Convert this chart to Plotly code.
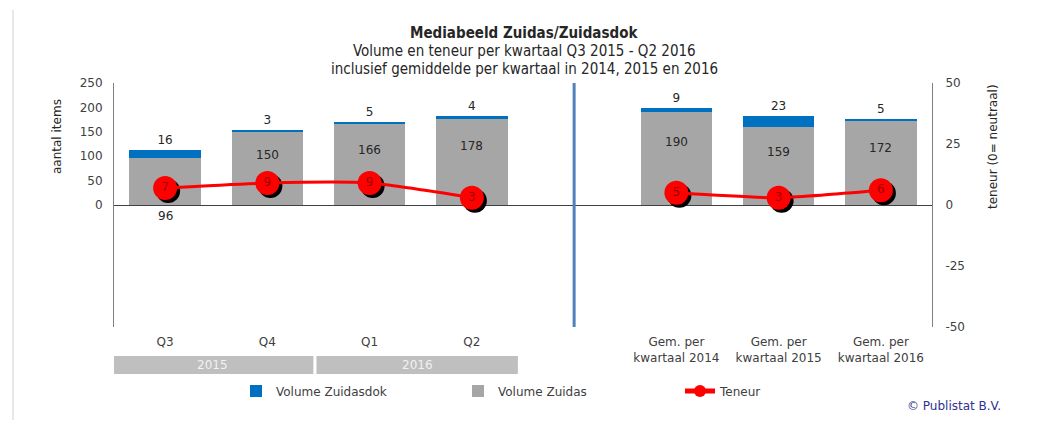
import plotly.graph_objects as go

# ---------------- data ----------------
categories = ["Q3", "Q4", "Q1", "Q2", "", "Gem. per<br>kwartaal 2014", "Gem. per<br>kwartaal 2015", "Gem. per<br>kwartaal 2016"]
volume_zuidas = [96, 150, 166, 178, None, 190, 159, 172]
volume_zuidasdok = [16, 3, 5, 4, None, 9, 23, 5]
teneur = [7, 9, 9, 3, None, 5, 3, 6]
left_ticks = [0, 50, 100, 150, 200, 250]
right_ticks = [-50, -25, 0, 25, 50]
year_groups = ["2015", "2016"]
year_members = [[0, 1], [2, 3]]
separator_slot = 4

# ---------------- layout constants ----------------
OFF = 8                      # page body margin
W, H = 1051 - OFF, 427 - OFF
ML, MT = 114 - OFF, 83 - OFF
PR, PB = 932 - OFF, 327 - OFF  # plot right / bottom in figure px
MR, MB = W - PR, H - PB
PW = PR - ML
PH = PB - MT
FONT = "DejaVu Sans"
TXT = "#404040"

x = list(range(len(categories)))
xr = [-0.5, len(categories) - 0.5]
yl = [-250, 250]
yr = [-50, 50]

def px_x(p):  # page px -> paper
    return (p - OFF - ML) / PW

def px_y(p):
    return (PB - (p - OFF)) / PH

# shadow offsets (3 px right / down)
sx = 3 * (xr[1] - xr[0]) / PW
sy = 3 * (yr[1] - yr[0]) / PH

fig = go.Figure()

fig.add_trace(go.Bar(
    x=x, y=volume_zuidas, name="Volume Zuidas", marker_color="#A6A6A6",
    marker_line_width=0, legendrank=2, hoverinfo="y"))
fig.add_trace(go.Bar(
    x=x, y=volume_zuidasdok, name="Volume Zuidasdok", marker_color="#0070C0",
    marker_line_width=0, legendrank=1,
    text=[str(v) if v is not None else "" for v in volume_zuidasdok],
    textposition="outside", textfont=dict(family=FONT, size=12, color="#262626"),
    cliponaxis=False))

# shadow of teneur markers
fig.add_trace(go.Scatter(
    x=x, y=teneur, mode="markers", xaxis="x2", yaxis="y2",
    marker=dict(size=24, color="black"), showlegend=False, hoverinfo="skip"))

fig.add_trace(go.Scatter(
    x=x, y=teneur, xaxis="x3", yaxis="y3", mode="lines+markers+text", name="Teneur",
    line=dict(color="#FF0000", width=3, shape="spline", smoothing=0.6),
    marker=dict(size=24, color="#FF0000"), connectgaps=False,
    text=[str(v) if v is not None else "" for v in teneur],
    textposition="middle center", textfont=dict(family=FONT, size=12, color="#A00000"),
    legendrank=3, cliponaxis=False))

annotations = []
# Zuidas value labels (inside bars; short bars get label below the axis)
for i, v in enumerate(volume_zuidas):
    if v is None:
        continue
    ly = v * 0.68 if v > 120 else -22
    annotations.append(dict(x=i, y=ly, xref="x", yref="y", text=str(v), showarrow=False,
                            xanchor="center", yanchor="middle",
                            font=dict(family=FONT, size=12, color="#262626")))

# year bands
shapes = []
for label, mem in zip(year_groups, year_members):
    x0, x1 = mem[0] - 0.52, mem[-1] + 0.45
    shapes.append(dict(type="rect", xref="x", yref="paper", x0=x0, x1=x1,
                       y0=px_y(374), y1=px_y(356), fillcolor="#BFBFBF", line_width=0, layer="below"))
    annotations.append(dict(x=(x0 + x1) / 2, y=px_y(365), xref="x", yref="paper", text=label,
                            xanchor="center", yanchor="middle",
                            showarrow=False, font=dict(family=FONT, size=12, color="#F2F2F2")))

# separator line
shapes.append(dict(type="line", xref="x", yref="paper", x0=separator_slot, x1=separator_slot,
                   y0=0, y1=1, line=dict(color="#4F81BD", width=3)))
# left border of chart
shapes.append(dict(type="line", xref="paper", yref="paper", x0=px_x(13), x1=px_x(13),
                   y0=px_y(420), y1=px_y(10), line=dict(color="#D0D0D0", width=1)))

# title lines
title_lines = [("<b>Mediabeeld Zuidas/Zuidasdok</b>", 33),
               ("Volume en teneur per kwartaal Q3 2015 - Q2 2016", 51),
               ("inclusief gemiddelde per kwartaal in 2014, 2015 en 2016", 69)]
for t, yy in title_lines:
    annotations.append(dict(x=px_x(524), y=px_y(yy), xref="paper", yref="paper",
                            xanchor="center", yanchor="middle", showarrow=False, text=t,
                            font=dict(family="DejaVu Sans Condensed", size=15, color="#262626")))

# axis titles
annotations.append(dict(x=px_x(57), y=px_y(137), xref="paper", yref="paper", text="aantal items",
                        xanchor="center", yanchor="middle",
                        textangle=-90, showarrow=False, font=dict(family=FONT, size=12, color="#262626")))
annotations.append(dict(x=px_x(993), y=px_y(146), xref="paper", yref="paper", text="teneur (0= neutraal)",
                        xanchor="center", yanchor="middle",
                        textangle=-90, showarrow=False, font=dict(family=FONT, size=12, color="#262626")))
# copyright
annotations.append(dict(x=px_x(1003), y=px_y(406), xref="paper", yref="paper", xanchor="right",
                        yanchor="middle",
                        text="© Publistat B.V.", showarrow=False,
                        font=dict(family=FONT, size=12, color="#2E3192")))

fig.update_layout(
    width=W, height=H, margin=dict(l=ML, r=MR, t=MT, b=MB),
    paper_bgcolor="white", plot_bgcolor="white",
    barmode="stack", bargap=0.3,
    font=dict(family=FONT, size=12, color=TXT),
    showlegend=True,
    legend=dict(orientation="h", x=px_x(236), y=px_y(391), xanchor="left", yanchor="middle",
                traceorder="normal",
                entrywidth=177, entrywidthmode="pixels", itemsizing="constant",
                font=dict(family=FONT, size=12, color="#404040"), bgcolor="rgba(0,0,0,0)"),
    xaxis=dict(range=xr, tickmode="array", tickvals=x, ticktext=categories,
               showgrid=False, zeroline=False, showline=False, ticks="",
               ticklabelstandoff=6, tickfont=dict(family=FONT, size=12, color=TXT)),
    xaxis2=dict(range=[xr[0] - sx, xr[1] - sx], overlaying="x", visible=False),
    xaxis3=dict(range=xr, overlaying="x", visible=False),
    yaxis=dict(range=yl, tickmode="array", tickvals=left_ticks,
               ticktext=[str(v) for v in left_ticks],
               showgrid=False, zeroline=True, zerolinecolor="#404040", zerolinewidth=1,
               showline=True, linecolor="#808080", linewidth=1, ticks="",
               ticklabelstandoff=8, tickfont=dict(family=FONT, size=12, color=TXT)),
    yaxis2=dict(range=[yr[0] + sy, yr[1] + sy], overlaying="y", visible=False),
    yaxis3=dict(range=yr, overlaying="y", side="right", tickmode="array",
                tickvals=right_ticks, ticktext=[str(v) for v in right_ticks],
                showgrid=False, zeroline=False,
                showline=True, linecolor="#808080", linewidth=1, ticks="",
                ticklabelstandoff=10, tickfont=dict(family=FONT, size=12, color=TXT)),
    shapes=shapes, annotations=annotations,
)

fig.write_html("out.html")
